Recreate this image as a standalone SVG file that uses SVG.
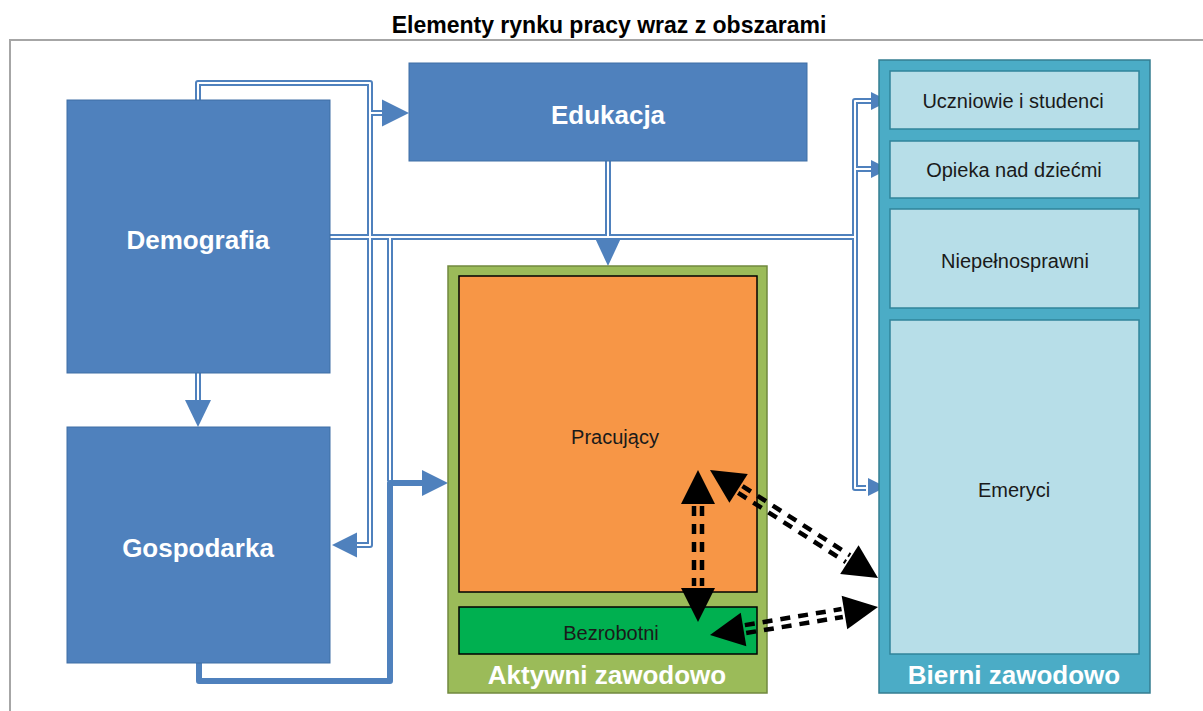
<svg xmlns="http://www.w3.org/2000/svg" width="1203" height="711" viewBox="0 0 1203 711">
<defs>
<style>
.bg{fill:#ffffff}
.frame{fill:none;stroke:#a6a6a6;stroke-width:2}
.title{font-family:"Liberation Sans",Arial,sans-serif;font-weight:bold;font-size:23px;fill:#000;text-anchor:middle}
.bluebox{fill:#4f81bd;stroke:#3f6ea5;stroke-width:1}
.big{font-family:"Liberation Sans",Arial,sans-serif;font-weight:bold;font-size:26px;fill:#ffffff;text-anchor:middle}
.small{font-family:"Liberation Sans",Arial,sans-serif;font-size:20px;fill:#1a1a1a;text-anchor:middle}
.green{fill:#9bbb59;stroke:#71893f;stroke-width:1.5}
.orange{fill:#f79646;stroke:#000;stroke-width:1.5}
.dgreen{fill:#00b050;stroke:#000;stroke-width:1.5}
.teal{fill:#4bacc6;stroke:#357d91;stroke-width:1.5}
.light{fill:#b7dee8;stroke:#31849b;stroke-width:1.5}
.outer{fill:none;stroke:#4f81bd;stroke-width:6;stroke-linejoin:round}
.inner{fill:none;stroke:#ffffff;stroke-width:2;stroke-linejoin:round}
.thick{fill:none;stroke:#4f81bd;stroke-width:6;stroke-linejoin:round}
.head{fill:#4f81bd}
.bhead{fill:#000}
.dash{stroke:#000;stroke-width:4.5;stroke-dasharray:10 8;fill:none}
</style>
<path id="p1" d="M198,100 V83 H370 V545 H352"/>
<path id="p1b" d="M370,113 H386"/>
<path id="p2" d="M330,237 H855"/>
<path id="p3" d="M872,101 H855 V488 H866"/>
<path id="p3b" d="M855,169 H872"/>
<path id="p4" d="M390,237 V481"/>
<path id="p5" d="M608,161 V242"/>
<path id="p6" d="M198,373 V403"/>
</defs>
<rect class="bg" x="0" y="0" width="1203" height="711"/>
<text class="title" x="609" y="33">Elementy rynku pracy wraz z obszarami</text>
<path class="frame" d="M10,711 V40 H1203"/>

<g id="connectors">
<use href="#p1" class="outer"/>
<use href="#p1b" class="outer"/>
<use href="#p2" class="outer"/>
<use href="#p3" class="outer"/>
<use href="#p3b" class="outer"/>
<use href="#p4" class="outer"/>
<use href="#p5" class="outer"/>
<use href="#p6" class="outer"/>
<use href="#p1" class="inner"/>
<use href="#p1b" class="inner"/>
<use href="#p2" class="inner"/>
<use href="#p3" class="inner"/>
<use href="#p3b" class="inner"/>
<use href="#p4" class="inner"/>
<use href="#p5" class="inner"/>
<use href="#p6" class="inner"/>
<path class="thick" d="M199,663 V681 H390 V483 H426"/>
<polygon class="head" points="409,113 382,99.5 382,126.5"/>
<polygon class="head" points="332,545 357,532.5 357,557.5"/>
<polygon class="head" points="889,101 871,92 871,110"/>
<polygon class="head" points="889,169 871,160 871,178"/>
<polygon class="head" points="886,487 868,478 868,496"/>
<polygon class="head" points="448,483 422,470 422,496"/>
<polygon class="head" points="608,266 595,238 621,238"/>
<polygon class="head" points="198,427 185,400 211,400"/>
</g>

<g id="demografia">
<rect class="bluebox" x="67" y="100" width="263" height="273"/>
<text class="big" x="198" y="249">Demografia</text>
</g>
<g id="gospodarka">
<rect class="bluebox" x="67" y="427" width="263" height="236"/>
<text class="big" x="198" y="557">Gospodarka</text>
</g>
<g id="edukacja">
<rect class="bluebox" x="409" y="63" width="398" height="98"/>
<text class="big" x="608" y="124">Edukacja</text>
</g>

<g id="aktywni">
<rect class="green" x="448" y="266" width="319" height="427"/>
<text class="big" x="607" y="684">Aktywni zawodowo</text>
</g>
<g id="pracujacy">
<rect class="orange" x="459" y="276" width="298" height="316"/>
<text class="small" x="615" y="444">Pracujący</text>
</g>
<g id="bezrobotni">
<rect class="dgreen" x="459" y="607" width="298" height="47"/>
<text class="small" x="611" y="640">Bezrobotni</text>
</g>

<g id="bierni">
<rect class="teal" x="879" y="60" width="271" height="633"/>
<text class="big" x="1014" y="684">Bierni zawodowo</text>
</g>
<g id="uczniowie">
<rect class="light" x="890" y="71" width="249" height="58"/>
<text class="small" x="1013" y="108">Uczniowie i studenci</text>
</g>
<g id="opieka">
<rect class="light" x="890" y="141" width="249" height="57"/>
<text class="small" x="1014" y="177">Opieka nad dziećmi</text>
</g>
<g id="niepelnosprawni">
<rect class="light" x="890" y="209" width="249" height="99"/>
<text class="small" x="1015" y="268">Niepełnosprawni</text>
</g>
<g id="emeryci">
<rect class="light" x="890" y="320" width="249" height="334"/>
<text class="small" x="1014" y="497">Emeryci</text>
</g>

<g id="flows">
<g transform="translate(698,470) rotate(90)">
<polygon class="bhead" points="0,0 34,-17 34,17"/>
<polygon class="bhead" points="152,0 118,-17 118,17"/>
<line class="dash" x1="36" y1="-4" x2="116" y2="-4"/>
<line class="dash" x1="36" y1="4" x2="116" y2="4"/>
</g>
<g transform="translate(710,470) rotate(32.74)">
<polygon class="bhead" points="0,0 34,-17 34,17"/>
<polygon class="bhead" points="199.7,0 165.7,-17 165.7,17"/>
<line class="dash" x1="36" y1="-4" x2="164" y2="-4"/>
<line class="dash" x1="36" y1="4" x2="164" y2="4"/>
</g>
<g transform="translate(710,635) rotate(-9.46)">
<polygon class="bhead" points="0,0 34,-17 34,17"/>
<polygon class="bhead" points="170.3,0 136.3,-17 136.3,17"/>
<line class="dash" x1="36" y1="-4" x2="134" y2="-4"/>
<line class="dash" x1="36" y1="4" x2="134" y2="4"/>
</g>
</g>
</svg>
